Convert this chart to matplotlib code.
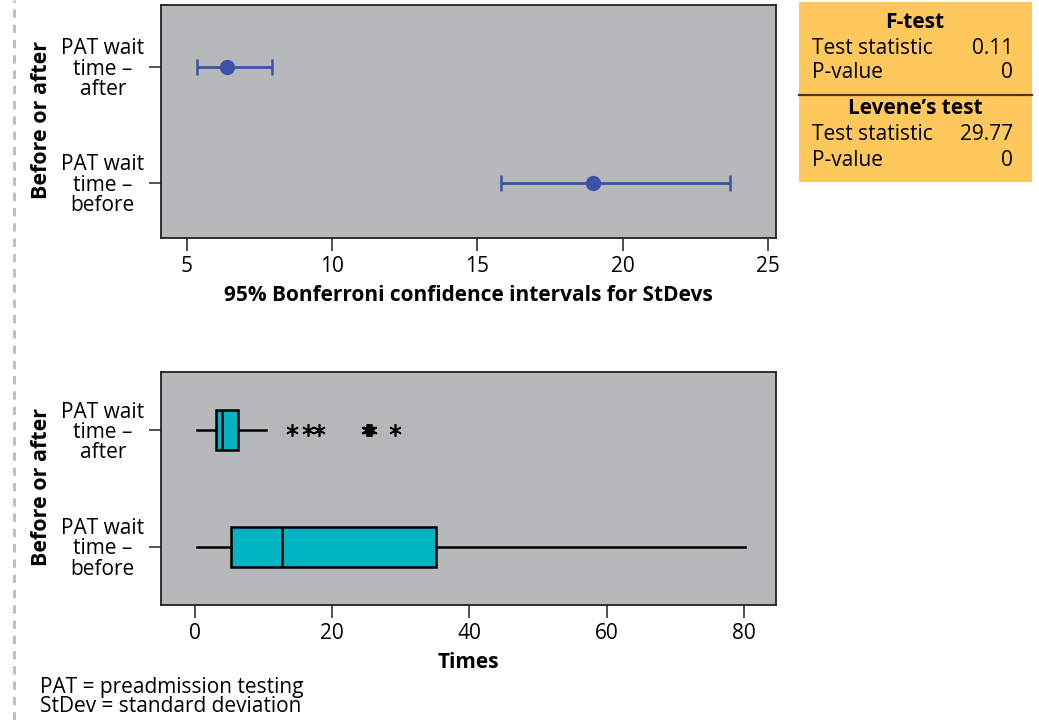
import matplotlib
matplotlib.use("Agg")
import matplotlib.pyplot as plt
from matplotlib.patches import Rectangle
from matplotlib.lines import Line2D

# ---- data ----
groups = ["PAT wait\ntime –\nbefore", "PAT wait\ntime –\nafter"]
ci_low = [15.81, 5.36]
ci_est = [18.98, 6.39]
ci_high = [23.70, 7.94]

box_whislo = [0.3, 0.25]
box_q1 = [5.3, 3.0]
box_med = [12.7, 3.9]
box_q3 = [35.2, 6.2]
box_whishi = [80.2, 10.4]
box_fliers = [[], [14.2, 16.5, 18.1, 25.0, 25.2, 25.4, 25.6, 29.2]]

top_ticks = [5, 10, 15, 20, 25]
bot_ticks = [0, 20, 40, 60, 80]

ftest_stat = "0.11"
ftest_p = "0"
levene_stat = "29.77"
levene_p = "0"

# ---- style ----
FONT = "Open Sans"
plt.rcParams["font.family"] = [FONT, "DejaVu Sans"]
AXBG = "#B7B8BA"
BLUE = "#3A52A8"
TEAL = "#00B4C3"
FS = 15

W, H = 1039, 720
fig = plt.figure(figsize=(W / 100, H / 100), dpi=100)

def fx(x):
    return x / W

def fy(y):
    return 1 - y / H

def style_axes(ax):
    ax.set_facecolor(AXBG)
    for s in ax.spines.values():
        s.set_color("#222222")
        s.set_linewidth(1.3)
    ax.tick_params(axis="both", direction="out", length=9, width=1.1,
                   color="#222222", labelsize=FS, pad=4)
    ax.tick_params(axis="y", pad=3)

ypos = [1, 2]

# ---- top axes: confidence intervals ----
ax1 = fig.add_axes([fx(161), fy(238), fx(776) - fx(161), fy(5) - fy(238)])
style_axes(ax1)
for i in range(2):
    ax1.errorbar([ci_est[i]], [ypos[i]],
                 xerr=[[ci_est[i] - ci_low[i]], [ci_high[i] - ci_est[i]]],
                 fmt="o", color=BLUE, ecolor=BLUE, markersize=10,
                 elinewidth=2, capsize=6, capthick=1.8)
ax1.set_xlim(4.12, 25.28)
ax1.set_ylim(0.526, 2.534)
ax1.set_xticks(top_ticks)
ax1.set_yticks(ypos)
ax1.set_yticklabels(groups, multialignment="center", linespacing=0.95)
ax1.set_xlabel("95% Bonferroni confidence intervals for StDevs",
               fontsize=FS, fontweight="bold", labelpad=6)

# ---- bottom axes: boxplot ----
ax2 = fig.add_axes([fx(161), fy(605), fx(776) - fx(161), fy(372) - fy(605)])
style_axes(ax2)
stats = []
for i in range(2):
    stats.append(dict(med=box_med[i], q1=box_q1[i], q3=box_q3[i],
                      whislo=box_whislo[i], whishi=box_whishi[i],
                      fliers=box_fliers[i]))
ax2.bxp(stats, positions=ypos, vert=False, widths=0.345, patch_artist=True,
        showcaps=False,
        boxprops=dict(facecolor=TEAL, edgecolor="black", linewidth=1.8),
        medianprops=dict(color="black", linewidth=1.8),
        whiskerprops=dict(color="black", linewidth=1.8),
        flierprops=dict(marker=(6, 2, 0), markersize=9,
                        markeredgecolor="black", markeredgewidth=1.2,
                        linestyle="none"))
ax2.set_xlim(-4.96, 84.7)
ax2.set_ylim(0.5, 2.5)
ax2.set_xticks(bot_ticks)
ax2.set_yticks(ypos)
ax2.set_yticklabels(groups, multialignment="center", linespacing=0.95)
ax2.set_xlabel("Times", fontsize=FS, fontweight="bold", labelpad=6)

# ---- y labels ----
fig.text(fx(42), fy(120), "Before or after", rotation=90, ha="center",
         va="center", fontsize=15.5, fontweight="bold")
fig.text(fx(42), fy(487), "Before or after", rotation=90, ha="center",
         va="center", fontsize=15.5, fontweight="bold")

# ---- dashed line on the left ----
fig.add_artist(Line2D([fx(14), fx(14)], [0, 1], color="#BBBBBB",
                      linewidth=2, linestyle=(0, (3, 2.5))))

# ---- footnotes ----
fig.text(fx(40), fy(687), "PAT = preadmission testing", ha="left",
         va="center", fontsize=FS)
fig.text(fx(40), fy(707), "StDev = standard deviation", ha="left",
         va="center", fontsize=FS)

# ---- test table ----
fig.add_artist(Rectangle((fx(799), fy(182)), fx(1032) - fx(799),
                         fy(2) - fy(182), facecolor="#FFC85C",
                         edgecolor="none"))
fig.add_artist(Line2D([fx(799), fx(1032)], [fy(95), fy(95)],
                      color="#4A3A22", linewidth=1.6))
fig.text(fx(915), fy(22), "F-test", ha="center", va="center",
         fontsize=FS, fontweight="bold")
fig.text(fx(812), fy(48), "Test statistic", ha="left", va="center", fontsize=FS)
fig.text(fx(1013), fy(48), ftest_stat, ha="right", va="center", fontsize=FS)
fig.text(fx(812), fy(73), "P-value", ha="left", va="center", fontsize=FS)
fig.text(fx(1013), fy(73), ftest_p, ha="right", va="center", fontsize=FS)
fig.text(fx(915), fy(108), "Levene’s test", ha="center", va="center",
         fontsize=FS, fontweight="bold")
fig.text(fx(812), fy(135), "Test statistic", ha="left", va="center", fontsize=FS)
fig.text(fx(1013), fy(135), levene_stat, ha="right", va="center", fontsize=FS)
fig.text(fx(812), fy(160), "P-value", ha="left", va="center", fontsize=FS)
fig.text(fx(1013), fy(160), levene_p, ha="right", va="center", fontsize=FS)

fig.savefig("out.png", dpi=100, facecolor="white")
